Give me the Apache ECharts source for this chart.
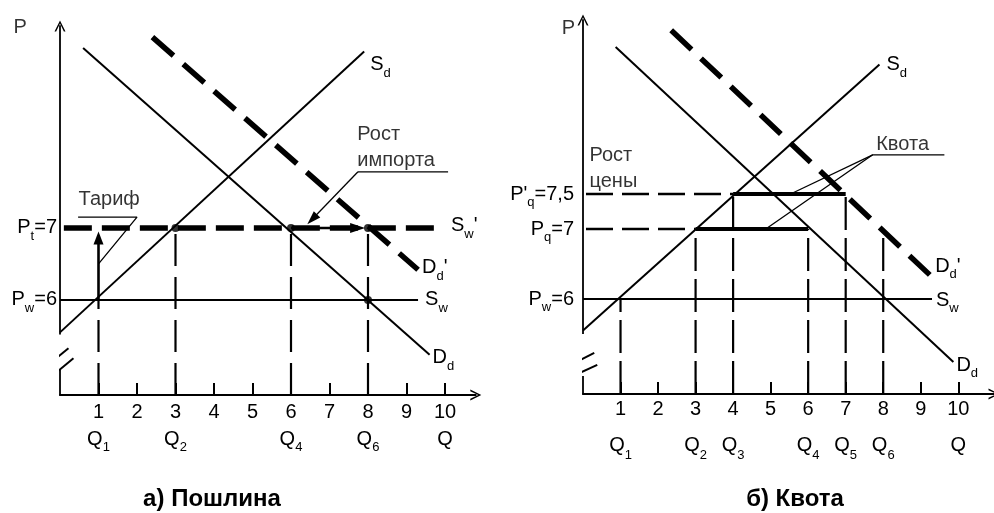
<!DOCTYPE html>
<html>
<head>
<meta charset="utf-8">
<script src="https://cdn.jsdelivr.net/npm/echarts@6/dist/echarts.min.js"></script>
<style>
html, body { margin: 0; padding: 0; background: #fff; }
#chart { width: 994px; height: 513px; }
</style>
</head>
<body>
<div id="chart"></div>
<script>
// ---- axis ticks / labels ----
const qTicks = [1, 2, 3, 4, 5, 6, 7, 8, 9, 10];
const qNamesA = {1: '1', 3: '2', 6: '4', 8: '6', 10: ''};
const qNamesB = {1: '1', 3: '2', 4: '3', 6: '4', 7: '5', 8: '6', 10: ''};
const priceTicksA = [6, 7];
const priceNamesA = {6: ['P', 'w', '6'], 7: ['P', 't', '7']};
const priceTicksB = [6, 7, 7.5];
const priceNamesB = {6: ['P', 'w', '6'], 7: ['P', 'q', '7'], 7.5: ["P'", 'q', '7,5']};

// ---- а) Пошлина ----
const sdA = [[0, 5.55], [7.9, 9.45]];
const ddA = [[0.6, 9.5], [9.6, 5.24]];
const ddNewA = [[2.4, 9.65], [9.3, 6.42]];
const swA = [[0, 6], [9.3, 6]];
const swNewA = [[0.1, 7], [9.87, 7]];
const dropsA = [[1, 6], [3, 7], [6, 7], [8, 7]];          // Q, price where the dashed line stops
const dotsA = [[3, 7], [6, 7], [8, 7], [8, 6]];
const tariffArrow = [[1, 6], [1, 6.86]];
const importArrow = [[6, 7], [7.73, 7]];
const importPointer = [[7.74, 7.78], [6.55, 7.12]];
const leadersA = [
  [[0.47, 7.15], [2.0, 7.15], [1.0, 6.5]],
  [[10.08, 7.78], [7.74, 7.78]]
];
const notesA = [[-1.22, 9.78, 'P'], [0.47, 7.39, 'Тариф'], [7.71, 8.12, 'Рост\nимпорта']];
const breakA = [[[-0.28, 5.11], [0.22, 5.33]], [[-0.15, 4.97], [0.35, 5.19]]];
const gapA = [[0, 5.04], [0, 5.52]];

// ---- б) Квота ----
const sdB = [[0, 5.55], [7.9, 9.35]];
const ddB = [[0.87, 9.6], [9.87, 5.1]];
const ddNewB = [[2.35, 9.84], [9.25, 6.34]];
const swB = [[0, 6], [9.3, 6]];
const quotaLow = [[3, 7], [6, 7]];
const quotaHigh = [[4, 7.5], [7, 7.5]];
const priceDashB = [[7, 3], [7.5, 4]];                    // price, Q where the dashed line ends
const dropsB = [[1, 6], [3, 7], [4, 7.5], [6, 7], [7, 7.5], [8, 6.95]];
const leadersB = [
  [[9.63, 8.06], [7.72, 8.06], [4.87, 7.0]],
  [[7.72, 8.06], [5.53, 7.5]]
];
const notesB = [[-0.58, 9.86, 'P'], [0.16, 7.86, 'Рост\nцены'], [7.8, 8.21, 'Квота']];
const breakB = [[[-0.26, 5.08], [0.3, 5.23]], [[-0.26, 4.9], [0.38, 5.06]]];
const gapB = [[0, 4.9], [0, 5.5]];

const yMinA = 4.68, yMaxA = 9.805, xMaxA = 10.8;
const yMinB = 4.6429, yMaxB = 9.9857, xMaxB = 10.952;

const INK = '#000';
const FONT = '"Liberation Sans", Arial, sans-serif';
const RICH = {
  m: {fontSize: 20, fontFamily: FONT, color: INK, lineHeight: 30},
  s: {fontSize: 13, fontFamily: FONT, color: INK, lineHeight: 12, verticalAlign: 'bottom'},
  n: {fontSize: 20, fontFamily: FONT, color: INK, lineHeight: 24},
  nb: {fontSize: 20, fontFamily: FONT, color: INK, lineHeight: 38},
  mb: {fontSize: 20, fontFamily: FONT, color: INK, lineHeight: 34}
};
const VEE = 'path://M5,0 L10,10 L8.5,10 L5,2.8 L1.5,10 L0,10 Z';

function line(gi, data, width, dash, extra) {
  return Object.assign({
    type: 'line', xAxisIndex: gi, yAxisIndex: gi, data: data,
    symbol: 'none', silent: true, clip: false, animation: false,
    lineStyle: {color: INK, width: width, type: dash || 'solid', cap: 'butt'}
  }, extra || {});
}

function tag(text, distance, dy) {
  return {endLabel: {show: true, formatter: () => text, rich: RICH, distance: distance, offset: [0, dy]}};
}

function arrow(gi, pts, width, size) {
  return {
    type: 'line', xAxisIndex: gi, yAxisIndex: gi, data: [pts[0]], symbol: 'none',
    silent: true, clip: false, animation: false,
    markLine: {
      silent: true, animation: false, symbol: ['none', 'triangle'],
      label: {show: false},
      lineStyle: {color: INK, width: width, type: 'solid'},
      emphasis: {disabled: true},
      data: [[{coord: pts[0], symbol: 'none'}, {coord: pts[1], symbol: 'triangle', symbolSize: size}]]
    }
  };
}

function notes(gi, items) {
  return {
    type: 'scatter', xAxisIndex: gi, yAxisIndex: gi, clip: false, silent: true, animation: false,
    symbolSize: 1, itemStyle: {color: 'rgba(0,0,0,0)'},
    data: items.map(d => ({value: [d[0], d[1]], name: d[2]})),
    label: {
      show: true, position: 'right', distance: 0, formatter: p => p.name,
      fontSize: 20, fontFamily: FONT, color: INK, lineHeight: 26, align: 'left'
    }
  };
}

function xAxis(gi, names, max, two) {
  return {
    type: 'value', gridIndex: gi, min: 0, max: max,
    splitLine: {show: false},
    axisLine: {lineStyle: {color: INK, width: 1.8}, symbol: ['none', VEE], symbolSize: [11, 13]},
    axisTick: {inside: true, length: 12, customValues: qTicks, lineStyle: {color: INK, width: 2}},
    axisLabel: {
      customValues: qTicks, margin: two ? -4 : 5, rich: RICH,
      formatter: v => {
        const top = two ? '{nb|' + v + '}' : '{n|' + v + '}';
        const m = two ? 'mb' : 'm';
        if (!(v in names)) return top;
        return top + '\n{' + m + '|Q}' + (names[v] ? '{s|' + names[v] + '}' : '');
      }
    }
  };
}

function yAxis(gi, ticks, names, min, max, margin) {
  return {
    type: 'value', gridIndex: gi, min: min, max: max,
    splitLine: {show: false},
    axisLine: {lineStyle: {color: INK, width: 1.8}, symbol: ['none', VEE], symbolSize: [11, 13]},
    axisTick: {show: false},
    axisLabel: {
      customValues: ticks, margin: margin, rich: RICH,
      formatter: v => {
        const n = names[v];
        return '{m|' + n[0] + '}{s|' + n[1] + '}{m|=' + n[2] + '}';
      }
    }
  };
}

const series = [];

// а) Пошлина
series.push(line(0, gapA, 5, 'solid', {lineStyle: {color: '#fff', width: 5}}));
breakA.forEach(b => series.push(line(0, b, 2)));
dropsA.forEach(d => series.push(line(0, [[d[0], yMinA], [d[0], d[1]]], 2.2, [32, 11])));
series.push(line(0, swA, 2, 'solid', tag('{m|S}{s|w}', 7, 0)));
series.push(line(0, sdA, 2, 'solid', tag('{m|S}{s|d}', 6, 13)));
series.push(line(0, ddA, 2, 'solid', tag('{m|D}{s|d}', 3, 3)));
series.push(line(0, swNewA, 5.5, [28, 10], tag("{m|S}{s|w}{m|'}", 11, -2)));
series.push(line(0, ddNewA, 5.5, [28, 13], tag("{m|D}{s|d}{m|'}", 4, -2)));
leadersA.forEach(l => series.push(line(0, l, 1.3)));
series.push(arrow(0, tariffArrow, 2.6, [10, 13]));
series.push(arrow(0, importArrow, 2.4, [10, 15]));
series.push(arrow(0, importPointer, 1.3, [9, 14]));
series.push({
  type: 'scatter', xAxisIndex: 0, yAxisIndex: 0, data: dotsA, symbolSize: 8,
  itemStyle: {color: INK}, silent: true, animation: false, clip: false
});
series.push(notes(0, notesA));

// б) Квота
series.push(line(1, gapB, 5, 'solid', {lineStyle: {color: '#fff', width: 5}}));
breakB.forEach(b => series.push(line(1, b, 2)));
dropsB.forEach(d => series.push(line(1, [[d[0], yMinB], [d[0], d[1]]], 2.2, [33, 8])));
priceDashB.forEach(p => series.push(line(1, [[0.08, p[0]], [p[1], p[0]]], 2.4, [27, 9])));
series.push(line(1, swB, 2, 'solid', tag('{m|S}{s|w}', 4, 1)));
series.push(line(1, sdB, 2, 'solid', tag('{m|S}{s|d}', 7, 0)));
series.push(line(1, ddB, 2, 'solid', tag('{m|D}{s|d}', 3, 3)));
series.push(line(1, quotaLow, 4.2));
series.push(line(1, quotaHigh, 4.2));
series.push(line(1, ddNewB, 5.5, [28, 13], tag("{m|D}{s|d}{m|'}", 5, -9)));
leadersB.forEach(l => series.push(line(1, l, 1.3)));
series.push(notes(1, notesB));

const chart = echarts.init(document.getElementById('chart'), null, {renderer: 'canvas'});
chart.setOption({
  backgroundColor: '#fff',
  animation: false,
  textStyle: {fontFamily: FONT},
  title: [
    {text: 'а) Пошлина', left: 212, top: 487, textAlign: 'center', padding: 0,
     textStyle: {fontSize: 24, fontWeight: 'bold', fontFamily: FONT, color: INK}},
    {text: 'б) Квота', left: 795, top: 487, textAlign: 'center', padding: 0,
     textStyle: {fontSize: 24, fontWeight: 'bold', fontFamily: FONT, color: INK}}
  ],
  grid: [
    {left: 60, top: 26, width: 415.8, height: 369, containLabel: false},
    {left: 583, top: 20, width: 414, height: 374, containLabel: false}
  ],
  xAxis: [xAxis(0, qNamesA, xMaxA, false), xAxis(1, qNamesB, xMaxB, true)],
  yAxis: [
    yAxis(0, priceTicksA, priceNamesA, yMinA, yMaxA, 3),
    yAxis(1, priceTicksB, priceNamesB, yMinB, yMaxB, 9)
  ],
  series: series
});
</script>
</body>
</html>
